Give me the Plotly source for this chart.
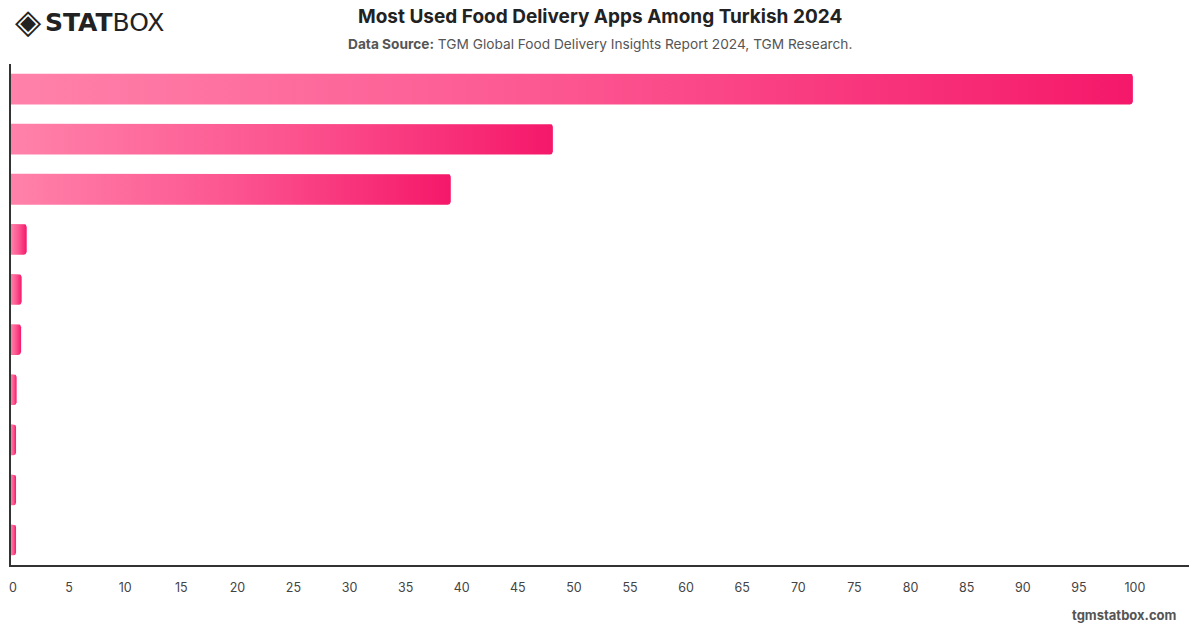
import math
import plotly.graph_objects as go

# ---- data ----
apps = ["Yemeksepeti", "Getir Yemek", "Trendyol Yemek", "Migros Yemek", "Uber Eats",
        "Bolt Food", "Glovo", "Wolt", "Deliveroo", "Just Eat"]
usage = [100.0, 48.3, 39.2, 1.4, 0.95, 0.9, 0.5, 0.45, 0.45, 0.45]
x_ticks = list(range(0, 101, 5))

title_text = "Most Used Food Delivery Apps Among Turkish 2024"
source_text = "<b>Data Source:</b> TGM Global Food Delivery Insights Report 2024, TGM Research."

# ---- layout geometry ----
W, H = 1200, 628
ML, MR, MT, MB = 11, 11, 64, 63
X_MAX = 105.0
plot_w = W - ML - MR
plot_h = H - MT - MB
n = len(apps)
px_per_x = plot_w / X_MAX
px_per_cat = plot_h / n
half_h = 0.307
radius_px = 3.0

fig = go.Figure()

for i, (name, v) in enumerate(zip(apps, usage)):
    w_px = v * px_per_x
    r = min(radius_px, w_px / 2.0)
    rx = r / px_per_x
    ry = r / px_per_cat
    y0, y1 = i - half_h, i + half_h
    xs, ys = [0, v - rx], [y0, y0]
    for k in range(1, 7):
        a = -math.pi / 2 + (math.pi / 2) * k / 6
        xs.append(v - rx + rx * math.cos(a))
        ys.append(y0 + ry + ry * math.sin(a))
    xs.append(v); ys.append(y1 - ry)
    for k in range(1, 7):
        a = (math.pi / 2) * k / 6
        xs.append(v - rx + rx * math.cos(a))
        ys.append(y1 - ry + ry * math.sin(a))
    xs += [0, 0]; ys += [y1, y0]
    fig.add_trace(go.Scatter(
        x=xs, y=ys, mode="lines", fill="toself",
        line=dict(width=0, color="rgba(0,0,0,0)"),
        fillgradient=dict(type="horizontal",
                          colorscale=[[0, "#ff82aa"], [0.5, "#fc5590"], [1, "#f5186a"]]),
        name=name, hoveron="fills", text=f"{name}: {v}", hoverinfo="text",
        showlegend=False,
    ))

annots = [
    dict(text=f"<b>{title_text}</b>", px=600, py=17, anchor="center",
         font=dict(size=19, color="#222", family="Inter, sans-serif")),
    dict(text=source_text, px=600, py=44, anchor="center",
         font=dict(size=13.7, color="#555", family="Inter, sans-serif")),
    dict(text="◈", px=13, py=21, anchor="left",
         font=dict(size=34, color="#222", family="DejaVu Sans")),
    dict(text="<b>STAT</b>BOX", px=43, py=22, anchor="left",
         font=dict(size=25, color="#222", family="DejaVu Sans")),
    dict(text="<b>tgmstatbox.com</b>", px=1179, py=615, anchor="right",
         font=dict(size=13, color="#555", family="Inter, sans-serif")),
]
layout_annots = []
for a in annots:
    layout_annots.append(dict(
        text=a["text"], x=(a["px"] - ML) / plot_w, y=(H - MB - a["py"]) / plot_h,
        xref="paper", yref="paper", xanchor=a["anchor"], yanchor="middle",
        showarrow=False, font=a["font"]))

fig.update_layout(
    width=W, height=H,
    margin=dict(l=ML, r=MR, t=MT, b=MB, autoexpand=False),
    paper_bgcolor="white", plot_bgcolor="white",
    font=dict(family="Inter, Roboto, sans-serif", color="#444"),
    xaxis=dict(range=[0, X_MAX], tickvals=x_ticks, ticktext=[str(t) for t in x_ticks],
               showgrid=False, zeroline=False, showline=True, linecolor="#333", linewidth=1.5,
               ticks="outside", ticklen=10, tickcolor="rgba(0,0,0,0)", automargin=False,
               ticklabelshift=2,
               tickfont=dict(size=12.5, color="#444"), fixedrange=True),
    yaxis=dict(range=[n - 0.5, -0.5], tickvals=list(range(n)), ticktext=apps,
               showticklabels=False, showgrid=False, zeroline=False, automargin=False,
               showline=True, linecolor="#333", linewidth=1.5, fixedrange=True),
    annotations=layout_annots,
)

fig.write_html("out.html")
